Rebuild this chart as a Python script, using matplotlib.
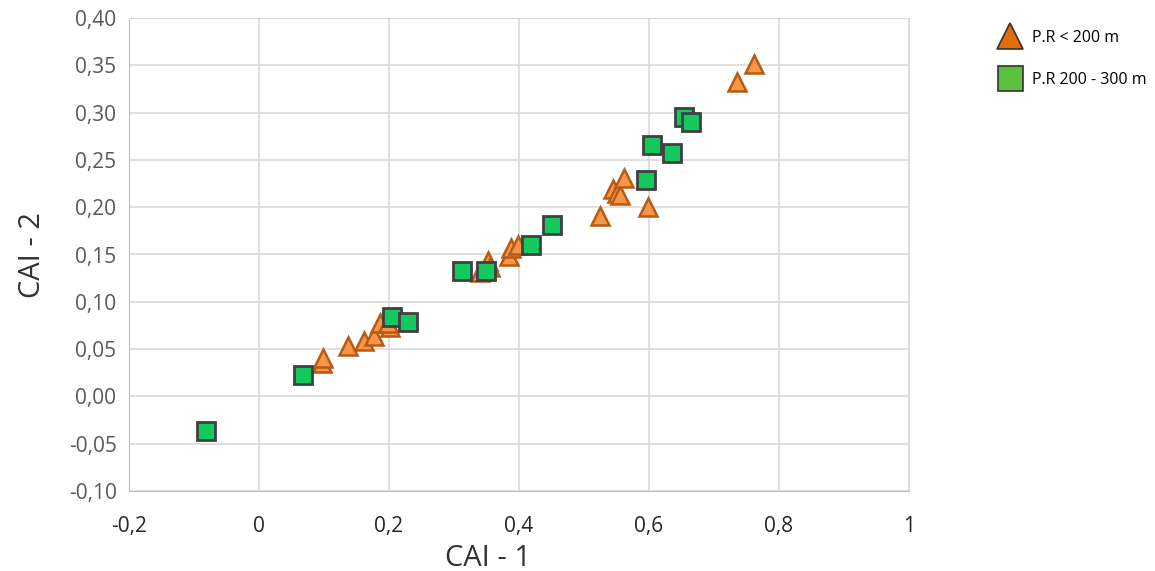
import matplotlib.pyplot as plt
from matplotlib.lines import Line2D
from matplotlib.ticker import FuncFormatter

plt.rcParams['font.family'] = ['Open Sans', 'DejaVu Sans']

# P.R < 200 m
tri_x = [0.097, 0.099, 0.137, 0.162, 0.177, 0.186, 0.202, 0.198, 0.340, 0.352, 0.355,
         0.385, 0.388, 0.398, 0.525, 0.545, 0.550, 0.555, 0.561, 0.598, 0.735, 0.762]
tri_y = [0.035, 0.041, 0.053, 0.059, 0.064, 0.078, 0.073, 0.078, 0.132, 0.143, 0.137,
         0.148, 0.157, 0.160, 0.191, 0.219, 0.215, 0.213, 0.231, 0.200, 0.332, 0.351]

# P.R 200 - 300 m
sq_x = [-0.082, 0.067, 0.205, 0.229, 0.313, 0.349, 0.418, 0.450, 0.595, 0.604, 0.635, 0.654, 0.665]
sq_y = [-0.037, 0.023, 0.084, 0.079, 0.133, 0.133, 0.160, 0.181, 0.229, 0.266, 0.257, 0.295, 0.290]

x_ticks = [-0.2, 0, 0.2, 0.4, 0.6, 0.8, 1]
y_ticks = [-0.10, -0.05, 0.00, 0.05, 0.10, 0.15, 0.20, 0.25, 0.30, 0.35, 0.40]

fig = plt.figure(figsize=(11.55, 5.71), dpi=100)
ax = fig.add_axes([129 / 1155, 1 - 491 / 571, 780 / 1155, 473 / 571])

ax.plot(tri_x, tri_y, linestyle='none', marker='^', markersize=13,
        markerfacecolor='#F79646', markeredgecolor='#B85A14', markeredgewidth=1.8, zorder=3)
ax.plot(sq_x, sq_y, linestyle='none', marker='s', markersize=13,
        markerfacecolor='#13C95E', markeredgecolor='#404040', markeredgewidth=2, zorder=4)

ax.set_xlim(-0.2, 1)
ax.set_ylim(-0.10, 0.40)
ax.set_xticks(x_ticks)
ax.set_yticks(y_ticks)


def fmt_x(v, pos):
    if abs(v - round(v)) < 1e-9:
        return str(int(round(v)))
    return ('%.1f' % v).replace('.', ',')


ax.xaxis.set_major_formatter(FuncFormatter(fmt_x))
ax.yaxis.set_major_formatter(FuncFormatter(lambda v, p: ('%.2f' % v).replace('.', ',')))

ax.grid(True, color='#D9D9D9', linewidth=1.2)
ax.set_axisbelow(True)
for s in ['top', 'right']:
    ax.spines[s].set_color('#D9D9D9')
for s in ['left', 'bottom']:
    ax.spines[s].set_color('#BFBFBF')
ax.tick_params(axis='x', length=0, labelsize=15, colors='#262626', pad=18)
ax.tick_params(axis='y', length=0, labelsize=15, colors='#595959', pad=9)

ax.set_xlabel('CAI - 1', fontsize=21, color='#333333')
ax.set_ylabel('CAI - 2', fontsize=21, color='#333333')
ax.xaxis.set_label_coords(0.46, -0.112)
ax.yaxis.set_label_coords(-0.105, 0.5)

handles = [
    Line2D([], [], linestyle='none', marker='^', markersize=19,
           markerfacecolor='#E36C0A', markeredgecolor='#333333', markeredgewidth=1.2,
           label='P.R < 200 m'),
    Line2D([], [], linestyle='none', marker='s', markersize=18,
           markerfacecolor='#5CC23E', markeredgecolor='#333333', markeredgewidth=1.2,
           label='P.R 200 - 300 m'),
]
fig.legend(handles=handles, loc='upper left', bbox_to_anchor=(990 / 1155, 1 - 22 / 571),
           frameon=False, fontsize=11.5, handletextpad=0.6, labelspacing=1.6,
           borderpad=0, handlelength=1.5)

fig.savefig('out.png', dpi=100)
